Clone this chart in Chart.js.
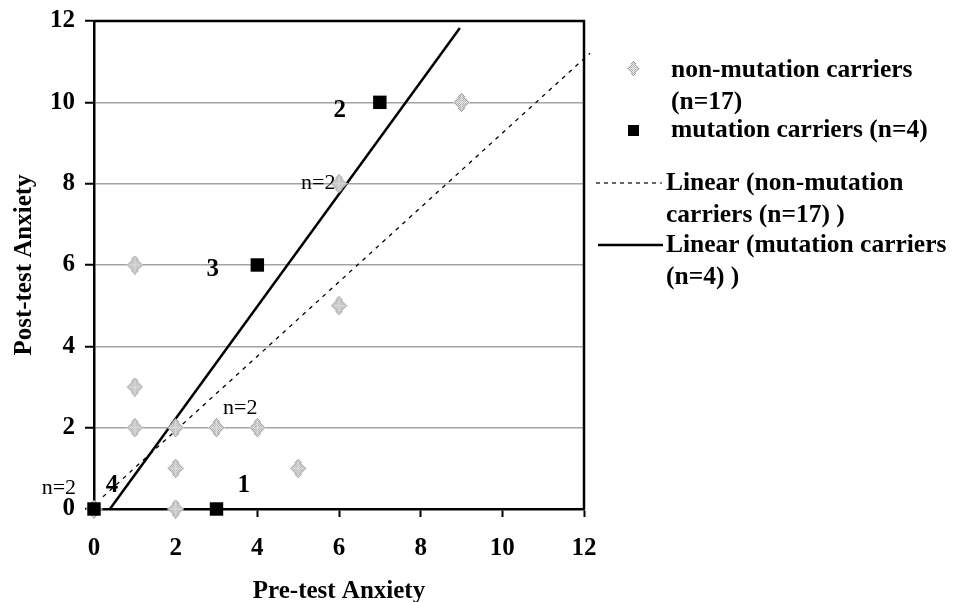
<!DOCTYPE html>
<html>
<head>
<meta charset="utf-8">
<script src="https://cdn.jsdelivr.net/npm/chart.js@4.4.1/dist/chart.umd.min.js"></script>
<style>
  html, body { margin: 0; padding: 0; background: #fff; }
  #wrap { width: 953px; height: 602px; position: relative; }
</style>
</head>
<body>
<div id="wrap"><canvas id="myChart"></canvas></div>
<script>
const tickValues = [0, 2, 4, 6, 8, 10, 12]
const nonCarrierX = [0, 1, 1, 1, 2, 2, 2, 3, 4, 5, 6, 6, 9]
const nonCarrierY = [0, 6, 3, 2, 2, 1, 0, 2, 2, 1, 8, 5, 10]
const carrierX = [0, 3, 4, 7]
const carrierY = [0, 0, 6, 10]
// trend lines as drawn in the picture (start, end)
const nonCarrierFitX = [0.22, 12.15]
const nonCarrierFitY = [0.3, 11.21]
const carrierFitX = [0.39, 8.96]
const carrierFitY = [0, 11.83]
const seriesNames = ['non-mutation carriers (n=17)', 'mutation carriers (n=4)',
  'Linear (non-mutation carriers (n=17) )', 'Linear (mutation carriers (n=4) )']
// little notes written next to the points
const noteText = ['2', 'n=2', '3', 'n=2', 'n=2', '4', '1']
const noteX = [6.02, 5.49, 2.91, 3.58, -0.86, 0.44, 3.67]
const noteY = [9.81, 8.02, 5.88, 2.48, 0.52, 0.57, 0.57]

const serif = 'Liberation Serif, Times New Roman, serif'
const boldFont = { family: serif, size: 25, weight: 'bold' }

// grey speckled diamond like the scanned marker
function diamond(w, h) {
  const c = document.createElement('canvas')
  c.width = w
  c.height = h
  const g = c.getContext('2d')
  const cx = (w - 1) / 2, cy = (h - 1) / 2
  for (let y = 0; y < h; y++) {
    for (let x = 0; x < w; x++) {
      const d = Math.abs(x - cx) / cx + Math.abs(y - cy) / cy
      if (d > 1.05) continue
      if (d > 0.8) g.fillStyle = (x + y) % 2 ? '#dadada' : '#969696'
      else if (Math.abs(x - cx) < 1 || Math.abs(y - cy) < 1) g.fillStyle = (x + y) % 2 ? '#f2f2f2' : '#c4c4c4'
      else g.fillStyle = (x + y) % 2 ? '#ededed' : '#a6a6a6'
      g.fillRect(x, y, 1, 1)
    }
  }
  return c
}

const toPoints = (xs, ys) => xs.map((x, i) => ({ x: x, y: ys[i] }))

const frame = {
  id: 'frame',
  beforeDatasetsDraw(chart) {
    const { ctx, chartArea: a } = chart
    ctx.save()
    ctx.strokeStyle = '#000'
    ctx.lineWidth = 2.5
    ctx.beginPath()
    ctx.moveTo(a.left, a.top)
    ctx.lineTo(a.right, a.top)
    ctx.lineTo(a.right, a.bottom)
    ctx.stroke()
    ctx.restore()
  }
}

const notes = {
  id: 'notes',
  afterDraw(chart) {
    const { ctx, scales } = chart
    ctx.save()
    ctx.fillStyle = '#000'
    ctx.textAlign = 'center'
    ctx.textBaseline = 'middle'
    noteText.forEach((t, i) => {
      ctx.font = t.startsWith('n=') ? '22px ' + serif : 'bold 25px ' + serif
      ctx.fillText(t, scales.x.getPixelForValue(noteX[i]), scales.y.getPixelForValue(noteY[i]))
    })
    ctx.restore()
  }
}

function wrap(ctx, text, maxWidth) {
  const words = text.split(' ')
  const lines = []
  let line = ''
  words.forEach(w => {
    const test = line ? line + ' ' + w : w
    if (line && ctx.measureText(test).width > maxWidth) {
      lines.push(line)
      line = w
    } else {
      line = test
    }
  })
  lines.push(line)
  return lines
}

const sideLegend = {
  id: 'sideLegend',
  afterDraw(chart) {
    const ctx = chart.ctx
    const lineGap = 32
    ctx.save()
    ctx.font = 'bold 25.5px ' + serif
    ctx.fillStyle = '#000'
    ctx.textBaseline = 'middle'
    ctx.textAlign = 'left'

    // markers
    const d = diamond(13, 15)
    ctx.drawImage(d, 633 - 6, 68 - 7)
    ctx.fillRect(628, 125, 11, 11)

    ctx.strokeStyle = '#000'
    ctx.lineWidth = 1.2
    ctx.setLineDash([4, 4])
    ctx.beginPath(); ctx.moveTo(596, 183); ctx.lineTo(662, 183); ctx.stroke()
    ctx.setLineDash([])
    ctx.lineWidth = 2.5
    ctx.beginPath(); ctx.moveTo(598, 245); ctx.lineTo(663, 245); ctx.stroke()

    const items = [[0, 671, 70], [1, 671, 130], [2, 666, 183], [3, 666, 245]]
    items.forEach(([k, x, y]) => {
      wrap(ctx, seriesNames[k], chart.width - x - 1).forEach((l, j) => {
        ctx.fillText(l, x, y + j * lineGap)
      })
    })
    ctx.restore()
  }
}

new Chart(document.getElementById('myChart'), {
  type: 'scatter',
  data: {
    datasets: [
      { label: seriesNames[1], data: toPoints(carrierX, carrierY), pointStyle: 'rect',
        pointRadius: 9.5, backgroundColor: '#000', borderColor: '#000', borderWidth: 0, clip: false },
      { label: seriesNames[0], data: toPoints(nonCarrierX, nonCarrierY),
        pointStyle: diamond(17, 19), pointRadius: 9, clip: false },
      { label: seriesNames[2], data: toPoints(nonCarrierFitX, nonCarrierFitY), showLine: true,
        pointRadius: 0, borderColor: '#000', borderWidth: 1.3, borderDash: [4, 5], clip: false },
      { label: seriesNames[3], data: toPoints(carrierFitX, carrierFitY), showLine: true,
        pointRadius: 0, borderColor: '#000', borderWidth: 2.5 }
    ]
  },
  options: {
    responsive: true,
    maintainAspectRatio: false,
    animation: false,
    events: [],
    layout: { padding: { left: 0, top: 21, right: 369, bottom: 0 } },
    plugins: { legend: { display: false }, tooltip: { enabled: false } },
    scales: {
      x: {
        type: 'linear', min: 0, max: 12,
        afterFit: s => { s.height = 93 },
        afterBuildTicks: s => { s.ticks = tickValues.map(v => ({ value: v })) },
        ticks: { font: boldFont, color: '#000', padding: 17, maxRotation: 0 },
        grid: { drawOnChartArea: false, tickLength: 8, tickColor: '#000', tickWidth: 2 },
        border: { color: '#000', width: 2.5 },
        title: { display: true, text: 'Pre-test Anxiety', font: boldFont, color: '#000', padding: { top: 0, bottom: -5 } }
      },
      y: {
        type: 'linear', min: 0, max: 12,
        afterFit: s => { s.width = 94 },
        afterBuildTicks: s => { s.ticks = tickValues.map(v => ({ value: v })) },
        ticks: { font: { family: serif, size: 25, weight: 'bold', lineHeight: 0.8 }, color: '#000', padding: 10 },
        grid: {
          color: c => (c.tick && (c.tick.value === 0 || c.tick.value === 12)) ? 'rgba(0,0,0,0)' : '#a3a3a3',
          lineWidth: 1.5, tickLength: 9, tickColor: '#000', tickWidth: 2
        },
        border: { color: '#000', width: 2.5 },
        title: { display: true, text: 'Post-test Anxiety', font: boldFont, color: '#000', padding: { top: 10, bottom: 0 } }
      }
    }
  },
  plugins: [frame, notes, sideLegend]
})
</script>
</body>
</html>
